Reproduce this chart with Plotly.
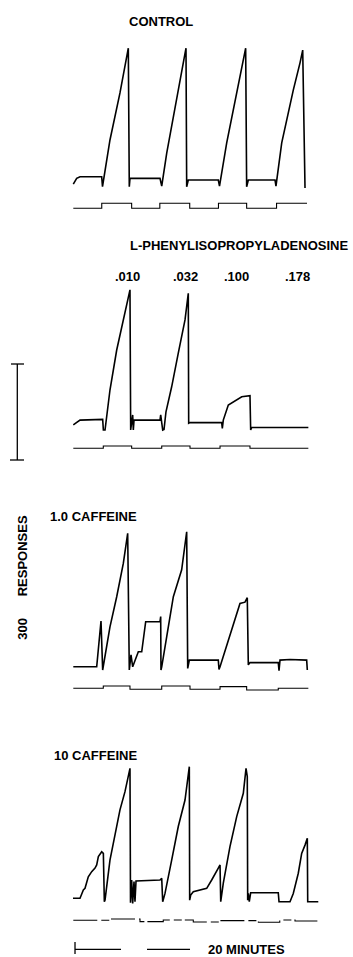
import plotly.graph_objects as go

# ---------------- DATA (time in minutes, cumulative responses) ----------------
control_t = [0.05, 0.64, 1.22, 4.99, 5.13, 6.43, 8.17, 9.62, 9.79, 9.91, 15.13, 15.3, 15.43, 16.3, 18.03,
             19.18, 19.65, 19.77, 20.05, 25.27, 25.48, 26.73, 29.04, 30.03, 30.2, 30.49, 35.13, 35.3,
             36.3, 38.31, 39.48, 39.95, 40.35]
control_r = [8, 26, 31, 31, 0, 146, 293, 433, 0, 26, 26, 5, 2, 105, 271,
             387, 433, 0, 21, 21, 2, 137, 340, 433, 0, 21, 21, 2,
             137, 302, 387, 427, -4]
control_pen_t = [0.05, 5.0, 10.2, 15.1, 20.3, 25.3, 30.2, 35.4, 40.7]
control_pen_v = [0, 1, 0, 1, 0, 1, 0, 1, 1]

lpia_t = [0.05, 1.22, 5.16, 5.28, 5.57, 6.43, 7.6, 9.04, 9.91, 10.03, 10.38, 10.49, 10.61, 15.13, 15.25,
          15.6, 15.83, 16.17, 17.16, 18.31, 19.48, 20.05, 20.12, 20.35, 25.86, 25.97, 26.14, 27.01,
          28.47, 29.34, 30.78, 30.9, 31.08, 40.93]
lpia_r = [16, 31, 33, 0, 0, 125, 250, 365, 438, 0, 47, 0, 31, 31, 47,
          0, 2, 57, 135, 240, 344, 427, 21, 23, 23, 5, 31, 78,
          94, 104, 107, 0, 8, 8]
lpia_pen_t = [0.05, 5.27, 10.2, 15.43, 20.35, 25.57, 30.78, 40.93]
lpia_pen_v = [0, 1, 0, 1, 0, 1, 0, 0]
dose_labels = [".010", ".032", ".100", ".178"]

caf1_t = [0.05, 4.12, 4.87, 5.16, 6.43, 7.6, 8.75, 9.51, 9.79, 10.09, 10.38, 11.36, 11.95, 12.64, 15.13,
          15.25, 15.3, 15.43, 16.3, 17.45, 18.9, 19.77, 19.95, 20.23, 25.27, 25.39, 25.57, 29.04,
          29.91, 30.31, 30.49, 30.78, 35.7, 35.83, 36.0, 37.74, 40.64, 40.75]
caf1_r = [10, 10, 153, 0, 135, 229, 333, 427, 0, 47, 10, 57, 57, 151, 151,
          167, 0, 10, 104, 229, 313, 432, 5, 31, 31, 2, 10, 208,
          212, 226, 16, 23, 23, -2, 31, 33, 31, 0]
caf1_pen_t = [0.05, 5.27, 9.91, 15.43, 20.35, 25.57, 30.2, 35.7, 40.93]
caf1_pen_v = [0.3, 1, 0, 1, 0, 0.8, -0.2, 0.3, 0.3]

caf10_t = [0.0, 1.22, 1.8, 2.09, 2.66, 3.25, 3.83, 4.12, 4.41, 4.99, 5.28, 5.45, 5.57, 6.43, 7.6, 8.17,
           9.04, 9.91, 10.0, 10.2, 10.38, 10.61, 10.78, 10.96, 15.13, 15.43, 15.6, 16.0, 17.16, 18.31,
           19.48, 20.23, 20.29, 20.47, 20.92, 22.09, 23.25, 24.12, 24.7, 25.27, 25.57, 25.69, 26.14,
           27.3, 28.47, 29.62, 30.09, 30.31, 30.38, 30.49, 30.66, 30.9, 35.7, 35.83, 37.74, 38.31,
           39.18, 39.77, 40.35, 40.75, 40.82, 42.66]
caf10_r = [14, 14, 40, 45, 81, 97, 108, 118, 144, 159, 154, 3, 8, 133, 238, 290,
           347, 420, 0, 71, -2, 66, 3, 68, 71, 76, 3, 29, 133, 238,
           321, 425, 8, 24, 34, 40, 45, 71, 92, 108, 118, 3, 61,
           175, 269, 342, 420, 394, 8, 29, 3, 31, 31, 3, 3, 29,
           92, 154, 180, 201, 3, 3]
caf10_pen_t = [0.05, 6.6, 11.65, 15.7, 20.92, 25.57, 32.24, 35.96, 38.61, 42.66]
caf10_pen_v = [2, 3.3, 0.7, 2.3, 0.3, 1.7, 0, 2.3, 1.3, 1.3]

scale_bar_responses = 300
time_bar_minutes = 20

# ---------------- LAYOUT ----------------
W, H = 353, 957
PX_PER_MIN = 5.75
X0_PX = 73
PX_PER_RESP = 0.32


def yaxis_cfg(base_px, unit_px, top_px, bot_px):
    return dict(domain=[1 - bot_px / H, 1 - top_px / H],
                range=[(base_px - bot_px) / unit_px, (base_px - top_px) / unit_px],
                visible=False, anchor="x", fixedrange=True)


panels = [
    # (times, responses, pen_t, pen_v, resp_base_px, resp_top, resp_bot, pen_base_px, pen_unit, pen_top, pen_bot, pen_dash)
    (control_t, control_r, control_pen_t, control_pen_v, 186.7, 30, 196, 208.3, 5.0, 198, 220, "solid"),
    (lpia_t, lpia_r, lpia_pen_t, lpia_pen_v, 430.0, 280, 440, 448.3, 2.3, 441, 456, "solid"),
    (caf1_t, caf1_r, caf1_pen_t, caf1_pen_v, 670.0, 520, 680, 689.3, 3.3, 681, 698, "solid"),
    (caf10_t, caf10_r, caf10_pen_t, caf10_pen_v, 902.7, 760, 912, 922.3, 1.0, 913, 932, "24px,4px,8px,3px"),
]

fig = go.Figure()
layout_axes = {}
for i, (t, r, pt, pv, rb, rt, rbot, pb, pu, ptop, pbot, pdash) in enumerate(panels):
    ya = 2 * i + 1
    yp = 2 * i + 2
    ya_name = "y" if ya == 1 else f"y{ya}"
    fig.add_trace(go.Scatter(x=t, y=r, mode="lines", xaxis="x", yaxis=ya_name,
                             line=dict(color="black", width=1.6), hoverinfo="skip", showlegend=False))
    fig.add_trace(go.Scatter(x=pt, y=pv, mode="lines", xaxis="x", yaxis=f"y{yp}",
                             line=dict(color="black", width=1.1, shape="hv", dash=pdash),
                             hoverinfo="skip", showlegend=False))
    layout_axes["yaxis" if ya == 1 else f"yaxis{ya}"] = yaxis_cfg(rb, PX_PER_RESP, rt, rbot)
    layout_axes[f"yaxis{yp}"] = yaxis_cfg(pb, pu, ptop, pbot)

# scale-bar axis (0 responses at 460 px)
layout_axes["yaxis9"] = yaxis_cfg(460, PX_PER_RESP, 340, 480)
fig.add_trace(go.Scatter(x=[None], y=[None], xaxis="x", yaxis="y9", showlegend=False))

fig.update_layout(
    width=W, height=H,
    margin=dict(l=0, r=0, t=0, b=0),
    paper_bgcolor="white", plot_bgcolor="rgba(0,0,0,0)",
    xaxis=dict(domain=[0, 1], range=[-X0_PX / PX_PER_MIN, (W - X0_PX) / PX_PER_MIN],
               visible=False, anchor="y", fixedrange=True),
    showlegend=False,
    **layout_axes,
)

FONT = dict(family="Liberation Sans, Arial, sans-serif", size=13, color="black", weight="bold")


def py(p):
    return 1 - p / H


def px(p):
    return p / W


shapes = []
# vertical response scale bar
shapes.append(dict(type="line", xref="paper", yref="y9", x0=px(17.3), x1=px(17.3),
                   y0=0, y1=scale_bar_responses, line=dict(color="black", width=1.3)))
shapes.append(dict(type="line", xref="paper", yref="y9", x0=px(11), x1=px(24),
                   y0=scale_bar_responses, y1=scale_bar_responses, line=dict(color="black", width=1.3)))
shapes.append(dict(type="line", xref="paper", yref="y9", x0=px(10), x1=px(24),
                   y0=0, y1=0, line=dict(color="black", width=1.3)))
# time scale bar
tb_start = 0.35
shapes.append(dict(type="line", xref="x", yref="paper", x0=tb_start, x1=tb_start + time_bar_minutes,
                   y0=py(949.3), y1=py(949.3), line=dict(color="black", width=1.3, dash="46px,26px,44px")))
shapes.append(dict(type="line", xref="x", yref="paper", x0=tb_start, x1=tb_start,
                   y0=py(942), y1=py(954), line=dict(color="black", width=1.3)))

annotations = [
    dict(text="CONTROL", x=px(160.5), y=py(22), xanchor="center", yanchor="middle"),
    dict(text="L-PHENYLISOPROPYLADENOSINE", x=px(239), y=py(245), xanchor="center", yanchor="middle"),
    dict(text="1.0 CAFFEINE", x=px(48), y=py(516), xanchor="left", yanchor="middle"),
    dict(text="10 CAFFEINE", x=px(52), y=py(755), xanchor="left", yanchor="middle"),
    dict(text="20 MINUTES", x=px(206), y=py(949.5), xanchor="left", yanchor="middle"),
    dict(text="300      RESPONSES", x=px(21.7), y=py(577), xanchor="center", yanchor="middle",
         textangle=-90),
]
dose_centers_px = [127.3, 185, 236.7, 297.3]
for lab, cx in zip(dose_labels, dose_centers_px):
    annotations.append(dict(text=lab, x=px(cx), y=py(277), xanchor="center", yanchor="middle"))

for a in annotations:
    a.update(xref="paper", yref="paper", showarrow=False, font=FONT)

fig.update_layout(shapes=shapes, annotations=annotations)
fig.write_html("out.html")
